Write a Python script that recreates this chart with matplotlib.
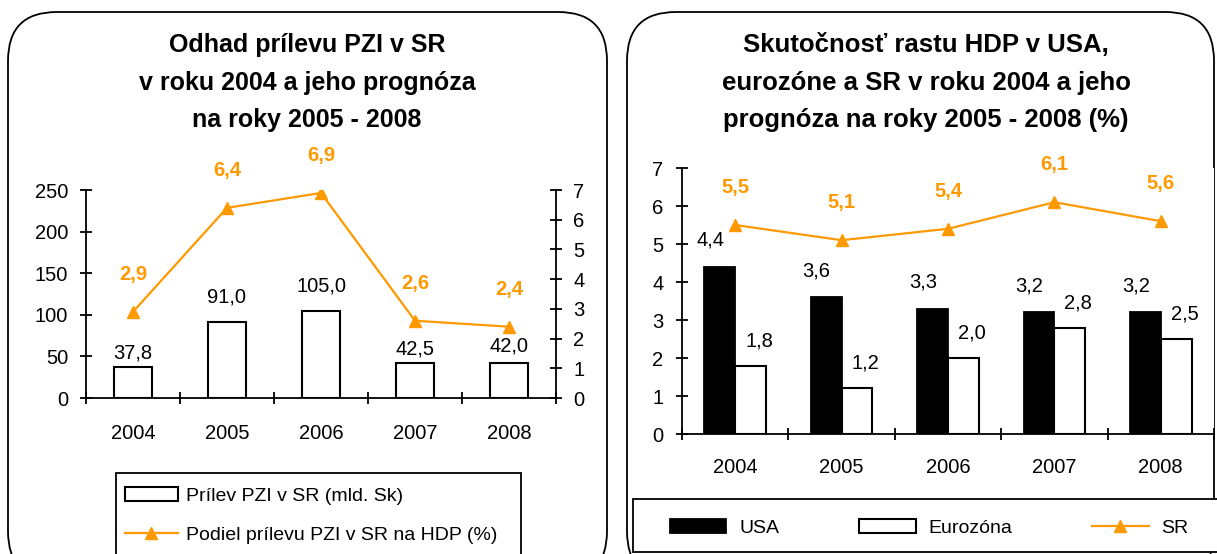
import matplotlib.pyplot as plt
from matplotlib.patches import FancyBboxPatch, Rectangle
import numpy as np

plt.rcParams['font.family'] = ['Liberation Sans', 'DejaVu Sans']

# data
roky = ['2004', '2005', '2006', '2007', '2008']
prilev_pzi = [37.8, 91.0, 105.0, 42.5, 42.0]      # mld. Sk
podiel_hdp = [2.9, 6.4, 6.9, 2.6, 2.4]            # % HDP
hdp_usa = [4.4, 3.6, 3.3, 3.2, 3.2]
hdp_euro = [1.8, 1.2, 2.0, 2.8, 2.5]
hdp_sr = [5.5, 5.1, 5.4, 6.1, 5.6]

ORANGE = '#FF9900'
W, H = 1217, 554
FS = 14.5

fig = plt.figure(figsize=(W / 100, H / 100), dpi=100)

def fx(px):
    return px / W

def fy(py):
    return 1 - py / H

def fmt(v):
    return f'{v:.1f}'.replace('.', ',')

# rounded panels
for x0, x1 in [(8, 607), (627, 1214)]:
    p = FancyBboxPatch((fx(x0), fy(580)), fx(x1) - fx(x0), fy(12) - fy(580),
                       boxstyle='round,pad=0,rounding_size=0.04',
                       transform=fig.transFigure, facecolor='white',
                       edgecolor='black', lw=1.3, mutation_aspect=W / H, zorder=-10)
    fig.patches.append(p)

# titles
for txt, xc, tfs in [(['Odhad prílevu PZI v SR', 'v roku 2004 a jeho prognóza',
                       'na roky 2005 - 2008'], 307, 18),
                     (['Skutočnosť rastu HDP v USA,', 'eurozóne a SR v roku 2004 a jeho',
                       'prognóza na roky 2005 - 2008 (%)'], 926, 18.5)]:
    for line, yc in zip(txt, [45, 83, 120]):
        fig.text(fx(xc), fy(yc), line, ha='center', va='center',
                 fontsize=tfs, fontweight='bold')

x = np.arange(len(roky))

def style_cat_axis(ax, pad):
    ax.set_xlim(-0.5, len(roky) - 0.5)
    ax.set_xticks(np.arange(len(roky) + 1) - 0.5)
    ax.set_xticklabels([])
    ax.set_xticks(x, minor=True)
    ax.set_xticklabels(roky, minor=True)
    ax.tick_params(axis='x', which='major', direction='inout', length=8.5, width=1.3)
    ax.tick_params(axis='x', which='minor', length=0, pad=pad, labelsize=FS)

# ---- left chart
ax1 = fig.add_axes([fx(86), fy(398), fx(556) - fx(86), fy(190) - fy(398)])
ax1.bar(x, prilev_pzi, width=0.4, color='white', edgecolor='black', lw=1.5,
        label='Prílev PZI v SR (mld. Sk)', zorder=2)
ax1.set_ylim(0, 250)
ax1.set_yticks(range(0, 251, 50))
ax1.tick_params(axis='y', direction='inout', length=8.5, width=1.3, labelsize=FS, pad=8.5)
style_cat_axis(ax1, 19)
for s in ['top', 'right']:
    ax1.spines[s].set_visible(False)
for s in ['left', 'bottom']:
    ax1.spines[s].set_linewidth(1.3)
bar_off = [10, 18, 18, 10, 12]
for i, v in enumerate(prilev_pzi):
    ax1.annotate(fmt(v), (x[i], v), xytext=(0, bar_off[i]),
                 textcoords='offset points', ha='center', va='center', fontsize=FS)

ax2 = ax1.twinx()
ax2.plot(x, podiel_hdp, color=ORANGE, lw=1.6, marker='^', markersize=9,
         label='Podiel prílevu PZI v SR na HDP (%)', zorder=3)
ax2.set_ylim(0, 7)
ax2.set_yticks(range(0, 8))
ax2.tick_params(axis='y', direction='inout', length=8.5, width=1.3, labelsize=FS, pad=8)
for s in ['top', 'left', 'bottom']:
    ax2.spines[s].set_visible(False)
ax2.spines['right'].set_linewidth(1.3)
for i, v in enumerate(podiel_hdp):
    ax2.annotate(fmt(v), (x[i], v), xytext=(0, 27),
                 textcoords='offset points', ha='center', va='center',
                 fontsize=FS, fontweight='bold', color=ORANGE)

h1, l1 = ax1.get_legend_handles_labels()
h2, l2 = ax2.get_legend_handles_labels()
fig.patches.append(Rectangle((fx(116), fy(556)), fx(521) - fx(116), fy(473) - fy(556),
                             transform=fig.transFigure, facecolor='white',
                             edgecolor='black', lw=1.3, zorder=-5))
fig.legend(h1 + h2, l1 + l2, loc='upper left', bbox_to_anchor=(fx(125), fy(487)),
           ncol=1, frameon=False, fontsize=14, handlelength=2.7,
           handletextpad=0.45, borderaxespad=0, borderpad=0, labelspacing=1.1)

# ---- right chart
bw = 0.29
ax3 = fig.add_axes([fx(682), fy(434), fx(1214) - fx(682), fy(168) - fy(434)])
b_usa = ax3.bar(x - bw / 2, hdp_usa, width=bw, color='black', edgecolor='black', lw=1.3,
                label='USA', zorder=2)
b_euro = ax3.bar(x + bw / 2, hdp_euro, width=bw, color='white', edgecolor='black', lw=1.5,
                 label='Eurozóna', zorder=2)
l_sr, = ax3.plot(x, hdp_sr, color=ORANGE, lw=1.6, marker='^', markersize=9,
                 label='SR', zorder=3)
ax3.set_ylim(0, 7)
ax3.set_yticks(range(0, 8))
ax3.tick_params(axis='y', direction='inout', length=8.5, width=1.3, labelsize=FS, pad=9)
style_cat_axis(ax3, 17)
for s in ['top', 'right']:
    ax3.spines[s].set_visible(False)
for s in ['left', 'bottom']:
    ax3.spines[s].set_linewidth(1.3)
for i in range(len(roky)):
    ax3.annotate(fmt(hdp_usa[i]), (x[i] - bw / 2, hdp_usa[i]),
                 xytext=(-7, 19), textcoords='offset points', ha='center', va='center',
                 fontsize=FS)
    ax3.annotate(fmt(hdp_euro[i]), (x[i] + bw / 2, hdp_euro[i]),
                 xytext=(6, 18), textcoords='offset points', ha='center', va='center',
                 fontsize=FS)
    ax3.annotate(fmt(hdp_sr[i]), (x[i], hdp_sr[i]),
                 xytext=(0, 27), textcoords='offset points', ha='center', va='center',
                 fontsize=FS, fontweight='bold', color=ORANGE)

fig.patches.append(Rectangle((fx(633), fy(552)), fx(1230) - fx(633), fy(499) - fy(552),
                             transform=fig.transFigure, facecolor='white',
                             edgecolor='black', lw=1.3, zorder=-5))
fig.legend([b_usa, b_euro, l_sr], ['USA', 'Eurozóna', 'SR'], loc='center left',
           bbox_to_anchor=(fx(670), fy(528)), ncol=3, frameon=False, fontsize=14,
           handlelength=2.9, handletextpad=0.67, columnspacing=4.1,
           borderaxespad=0, borderpad=0)

fig.savefig('out.png', dpi=100)
